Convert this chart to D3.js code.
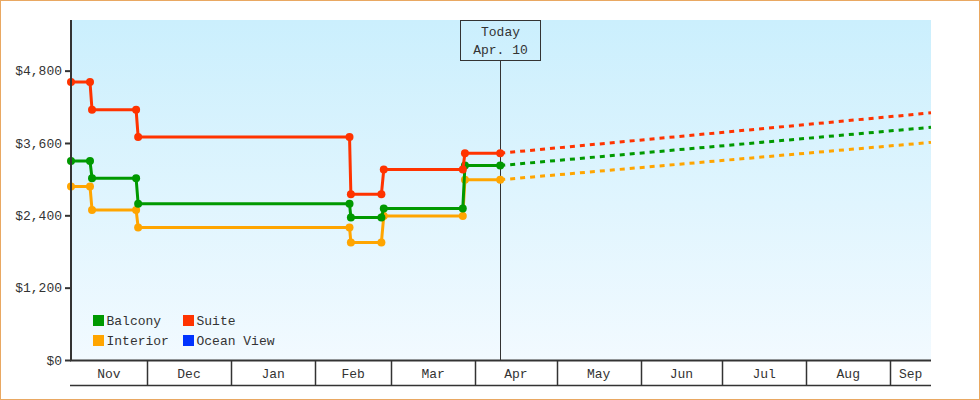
<!DOCTYPE html>
<html>
<head>
<meta charset="utf-8">
<script src="https://cdn.jsdelivr.net/npm/d3@7"></script>
<style>
	html, body { margin: 0; padding: 0; background: #fff; }
	svg { display: block; }
	text { font-family: "Liberation Mono", "DejaVu Sans Mono", monospace; font-size: 13px; fill: #333; }
</style>
</head>
<body>
<div id="chart"></div>
<script>
// price observations (UTC)
var obsDates = [
	"2014-11-03 00:00", "2014-11-10 00:00", "2014-11-10 18:00", "2014-11-27 00:00",
	"2014-11-27 18:00", "2015-02-13 16:00", "2015-02-14 04:00", "2015-02-25 10:00",
	"2015-02-26 07:00", "2015-03-27 10:00", "2015-03-28 05:00", "2015-04-10 05:00"
];
var balcony = [3300, 3300, 3015, 3015, 2590, 2590, 2364, 2364, 2513, 2513, 3226, 3226];
var interior = [2880, 2880, 2490, 2490, 2200, 2200, 1950, 1950, 2390, 2390, 2990, 2990];
var suite = [4610, 4610, 4150, 4150, 3700, 3700, 2750, 2750, 3160, 3160, 3430, 3430];

// forecast to the end of the window
var forecastDate = "2015-09-16 00:00";
var forecast = { Balcony: 3860, Interior: 3610, Suite: 4100 };

var todayDate = "2015-04-10 05:00";
var todayLabel = ["Today", "Apr. 10"];

var seriesNames = ["Balcony", "Interior", "Suite", "Ocean View"];
var seriesColors = ["#009900", "#ffa500", "#ff3300", "#0033ff"];
var yTicks = [0, 1200, 2400, 3600, 4800];
var yMax = 5640;
var startDate = "2014-11-03 00:00";

var width = 980, height = 400;
var margin = { top: 20, right: 49, bottom: 40, left: 71 };
var plotW = width - margin.left - margin.right,
	plotH = height - margin.top - margin.bottom;

var parse = d3.utcParse("%Y-%m-%d %H:%M");

var x = d3.scaleUtc()
	.domain([parse(startDate), parse(forecastDate)])
	.range([margin.left, margin.left + plotW]);
var y = d3.scaleLinear()
	.domain([0, yMax])
	.range([margin.top + plotH, margin.top]);

var color = d3.scaleOrdinal().domain(seriesNames).range(seriesColors);

var svg = d3.select("#chart").append("svg")
	.attr("width", width)
	.attr("height", height);

// background gradient
var defs = svg.append("defs");
var grad = defs.append("linearGradient")
	.attr("id", "bg")
	.attr("x1", 0).attr("y1", 0).attr("x2", 0).attr("y2", 1);
grad.append("stop").attr("offset", "0%").attr("stop-color", "#cbeffd");
grad.append("stop").attr("offset", "100%").attr("stop-color", "#f2faff");

svg.append("rect")
	.attr("x", 0.5).attr("y", 0.5)
	.attr("width", width - 1).attr("height", height - 1)
	.attr("fill", "#fff")
	.attr("stroke", "#e9a862");

svg.append("rect")
	.attr("x", margin.left).attr("y", margin.top)
	.attr("width", plotW).attr("height", plotH)
	.attr("fill", "url(#bg)");

// today marker
var tx = Math.round(x(parse(todayDate))) + 0.5;
svg.append("line")
	.attr("x1", tx).attr("x2", tx)
	.attr("y1", margin.top + 40).attr("y2", margin.top + plotH)
	.attr("stroke", "#333").attr("stroke-width", 1);
svg.append("rect")
	.attr("x", tx - 40).attr("y", margin.top + 0.5)
	.attr("width", 80).attr("height", 40)
	.attr("fill", "none").attr("stroke", "#333");
svg.selectAll(".today-label").data(todayLabel).enter().append("text")
	.attr("class", "today-label")
	.attr("x", tx)
	.attr("y", (d, i) => margin.top + 16 + i * 18)
	.attr("text-anchor", "middle")
	.text(d => d);

// series data
var series = [
	{ name: "Interior", values: interior },
	{ name: "Balcony", values: balcony },
	{ name: "Suite", values: suite }
].map(s => ({
	name: s.name,
	points: obsDates.map((d, i) => ({ date: parse(d), value: s.values[i] })),
	end: { date: parse(forecastDate), value: forecast[s.name] }
}));

var line = d3.line().x(d => x(d.date)).y(d => y(d.value));

var g = svg.append("g");

// dashed forecasts
g.selectAll(".forecast").data(series).enter().append("path")
	.attr("class", "forecast")
	.attr("d", s => line([s.points[s.points.length - 1], s.end]))
	.attr("fill", "none")
	.attr("stroke", s => color(s.name))
	.attr("stroke-width", 3)
	.attr("stroke-dasharray", "5,5");

var sg = g.selectAll(".series").data(series).enter().append("g")
	.attr("class", "series");

sg.append("path")
	.attr("d", s => line(s.points))
	.attr("fill", "none")
	.attr("stroke", s => color(s.name))
	.attr("stroke-width", 3)
	.attr("stroke-linejoin", "round");

sg.selectAll("circle").data(s => s.points.map(p => Object.assign({ name: s.name }, p)))
	.enter().append("circle")
	.attr("cx", d => x(d.date))
	.attr("cy", d => y(d.value))
	.attr("r", 4)
	.attr("fill", d => color(d.name));

// y axis
var yAxis = svg.append("g")
	.attr("transform", "translate(" + margin.left + ",0)")
	.call(d3.axisLeft(y).tickValues(yTicks).tickSize(6).tickPadding(3).tickFormat(d3.format("$,")));
yAxis.select(".domain").remove();
yAxis.selectAll(".tick line").attr("stroke", "#333").attr("stroke-width", 2);
yAxis.selectAll(".tick text")
	.style("font-family", "Liberation Mono, DejaVu Sans Mono, monospace")
	.style("font-size", "13px")
	.attr("fill", "#333");

svg.append("line")
	.attr("x1", margin.left).attr("x2", margin.left)
	.attr("y1", margin.top).attr("y2", margin.top + plotH + 1)
	.attr("stroke", "#333").attr("stroke-width", 2);

// month band along the bottom
var bandTop = margin.top + plotH, bandBottom = bandTop + 25;
var x0 = x.domain()[0], x1 = x.domain()[1];
var monthStarts = d3.utcMonth.range(d3.utcMonth.floor(x0), x1);
var months = monthStarts.map(m => {
	var a = m < x0 ? x0 : m;
	var b = d3.utcMonth.offset(m, 1);
	if (b > x1) b = x1;
	return { start: a, end: b, label: d3.utcFormat("%b")(m) };
});

var band = svg.append("g");
band.append("line")
	.attr("x1", margin.left - 1).attr("x2", margin.left + plotW)
	.attr("y1", bandTop + 0.5).attr("y2", bandTop + 0.5)
	.attr("stroke", "#333").attr("stroke-width", 2);
band.append("line")
	.attr("x1", margin.left - 1).attr("x2", margin.left + plotW)
	.attr("y1", bandBottom + 0.5).attr("y2", bandBottom + 0.5)
	.attr("stroke", "#333").attr("stroke-width", 1.5);
band.selectAll(".sep").data(months.slice(1)).enter().append("line")
	.attr("class", "sep")
	.attr("x1", d => Math.round(x(d.start)) + 0.5)
	.attr("x2", d => Math.round(x(d.start)) + 0.5)
	.attr("y1", bandTop).attr("y2", bandBottom)
	.attr("stroke", "#333").attr("stroke-width", 1.5);
band.selectAll(".month").data(months).enter().append("text")
	.attr("class", "month")
	.attr("x", d => (x(d.start) + x(d.end)) / 2)
	.attr("y", bandTop + 18)
	.attr("text-anchor", "middle")
	.attr("fill", "#222")
	.text(d => d.label);

// legend, filled column by column
var legend = svg.append("g")
	.attr("transform", "translate(93,315)");
var li = legend.selectAll(".item").data(seriesNames).enter().append("g")
	.attr("class", "item")
	.attr("transform", (d, i) => "translate(" + (Math.floor(i / 2) * 90) + "," + ((i % 2) * 20) + ")");
li.append("rect")
	.attr("width", 11).attr("height", 11)
	.attr("fill", d => color(d));
li.append("text")
	.attr("x", 13.5).attr("y", 10)
	.text(d => d);
</script>
</body>
</html>
